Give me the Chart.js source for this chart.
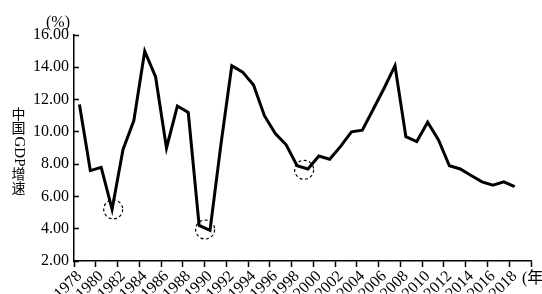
<!DOCTYPE html>
<html>
<head>
<meta charset="utf-8">
<script src="https://cdn.jsdelivr.net/npm/chart.js@4.4.1/dist/chart.umd.min.js"></script>
<style>
body { margin: 0; background: #fff; }
canvas { display: block; }
</style>
</head>
<body>
<canvas id="gdp-chart" width="542" height="294"></canvas>
<script>
// categories (one per year, the last one is left empty like in the original)
var years = ['1978','1979','1980','1981','1982','1983','1984','1985','1986','1987',
  '1988','1989','1990','1991','1992','1993','1994','1995','1996','1997',
  '1998','1999','2000','2001','2002','2003','2004','2005','2006','2007',
  '2008','2009','2010','2011','2012','2013','2014','2015','2016','2017',
  '2018','2019'];

// China GDP growth, %
var growth = [11.7, 7.6, 7.8, 5.2, 8.9, 10.7, 15.0, 13.4, 9.0, 11.6,
  11.2, 4.2, 3.9, 9.2, 14.1, 13.7, 12.9, 11.0, 9.9, 9.2,
  7.9, 7.7, 8.5, 8.3, 9.1, 10.0, 10.1, 11.4, 12.7, 14.1,
  9.7, 9.4, 10.6, 9.5, 7.9, 7.7, 7.3, 6.9, 6.7, 6.9, 6.6];

// dashed circles marking the troughs
var circleYears = [1981.1, 1989.55, 1998.65];
var circleValues = [5.2, 3.95, 7.65];

var yTitle = ['中', '国', 'GDP', '增', '速'];

var serif = '"Liberation Serif", "Times New Roman", serif';

var extras = {
  id: 'extras',
  afterDatasetsDraw: function(chart) {
    var ctx = chart.ctx;
    var xs = chart.scales.x, ys = chart.scales.y;
    ctx.save();
    ctx.strokeStyle = '#000';
    ctx.lineWidth = 1.2;
    ctx.setLineDash([3, 2.5]);
    for (var i = 0; i < circleYears.length; i++) {
      var cx = xs.getPixelForValue(circleYears[i] - 1978);
      var cy = ys.getPixelForValue(circleValues[i]);
      ctx.beginPath();
      ctx.arc(cx, cy, 9.5, 0, Math.PI * 2);
      ctx.stroke();
    }
    ctx.restore();
  },
  afterDraw: function(chart) {
    var ctx = chart.ctx;
    ctx.save();
    ctx.fillStyle = '#000';
    ctx.font = '16px ' + serif;
    ctx.textAlign = 'center';
    ctx.textBaseline = 'middle';
    ctx.fillText('(%)', 58, 23);

    ctx.textAlign = 'left';
    ctx.font = '16px "Liberation Serif", "Noto Sans CJK SC"';
    ctx.fillText('(年)', 522, 279);

    // vertical axis title, CJK upright, latin turned
    var yy = 106.5;
    for (var i = 0; i < yTitle.length; i++) {
      var s = yTitle[i];
      if (/^[A-Za-z]+$/.test(s)) {
        ctx.font = '15px ' + serif;
        var w = ctx.measureText(s).width;
        ctx.save();
        ctx.translate(18.5, yy + 1);
        ctx.rotate(Math.PI / 2);
        ctx.textAlign = 'left';
        ctx.fillText(s, 0, 0);
        ctx.restore();
        yy += w + 1;
      } else {
        ctx.font = '14px "Noto Sans CJK SC"';
        ctx.textAlign = 'center';
        ctx.fillText(s, 18.5, yy + 7);
        yy += 14.5;
      }
    }
    ctx.restore();
  }
};

var ctx = document.getElementById('gdp-chart');

var chart = new Chart(ctx, {
  type: 'line',
  data: {
    labels: years,
    datasets: [{
      data: growth,
      borderColor: '#000',
      borderWidth: 3,
      borderJoinStyle: 'miter',
      pointRadius: 0,
      tension: 0,
      fill: false
    }]
  },
  options: {
    responsive: false,
    animation: false,
    layout: { padding: { top: 35, right: 11, left: 0, bottom: 0 } },
    plugins: { legend: { display: false }, tooltip: { enabled: false } },
    scales: {
      x: {
        offset: true,
        afterFit: function(scale) { scale.height = 33; },
        border: { color: '#000', width: 1.5 },
        grid: {
          offset: true,
          drawOnChartArea: false,
          tickLength: 6,
          tickWidth: 1.5,
          tickColor: function(c) {
            return (c.index === undefined || c.index % 2 === 0) ? '#000' : 'rgba(0,0,0,0)';
          }
        },
        ticks: {
          autoSkip: false,
          maxRotation: 45,
          minRotation: 45,
          padding: 0,
          color: '#000',
          font: { family: serif, size: 16 },
          callback: function(v, i) { return i % 2 === 0 ? this.getLabelForValue(v) : ''; }
        }
      },
      y: {
        min: 2,
        max: 16,
        afterFit: function(scale) { scale.width = 74; },
        border: { color: '#000', width: 1.5 },
        grid: {
          drawOnChartArea: false,
          tickLength: -5,
          tickWidth: 1.5,
          tickColor: '#000'
        },
        ticks: {
          stepSize: 2,
          padding: 10,
          color: '#000',
          font: { family: serif, size: 16 },
          callback: function(v) { return v.toFixed(2); }
        }
      }
    }
  },
  plugins: [extras]
});
</script>
</body>
</html>
